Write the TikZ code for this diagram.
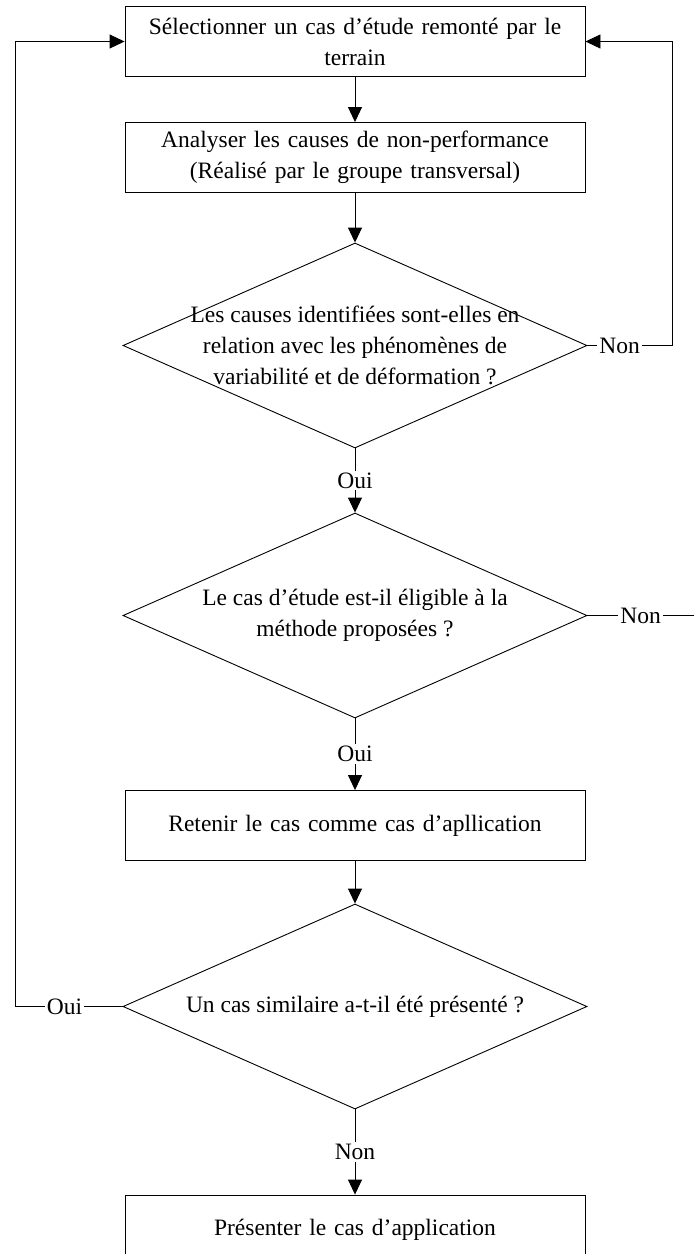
\documentclass[tikz,border=0pt]{standalone}
\usepackage{fontspec}
\setmainfont{Liberation Serif}
\usetikzlibrary{shapes.geometric,arrows.meta}

\begin{document}
\begin{tikzpicture}[x=1pt,y=-1pt,
    every node/.style={font=\fontsize{23.5}{31}\selectfont},
    stepbox/.style={draw, line width=0.9pt, minimum width=460pt, minimum height=70pt, text width=440pt, align=center, inner sep=0pt},
    test/.style={draw, diamond, line width=0.9pt, minimum width=464pt, minimum height=205pt, inner sep=0pt},
    qtext/.style={align=center, inner sep=0pt},
    lbl/.style={fill=white, inner sep=2pt},
    arr/.style={line width=0.9pt, -{Triangle[length=15pt,width=14pt]}},
    ln/.style={line width=0.9pt}]
        \useasboundingbox (0,0) rectangle (694,1254);
        \clip (0,0) rectangle (694,1254);
        % Steps
        \node[stepbox] (select) at (355,41.5) {S\'electionner un cas d'\'etude remont\'e par le\\terrain};
        \node[stepbox] (analyse) at (355,157.5) {Analyser les causes de non-performance\\(R\'ealis\'e par le groupe transversal)};
        % Tests
        \node[test] (causes) at (355,345.5) {};
        \node[qtext] (causestxt) at (causes) {Les causes identifi\'ees sont-elles en\\relation avec les ph\'enom\`enes de\\variabilit\'e et de d\'eformation ?};
        \node[test] (eligible) at (355,615.5) {};
        \node[qtext] (eligibletxt) at (eligible) {Le cas d'\'etude est-il \'eligible \`a la\\m\'ethode propos\'ees ?};
        \node[stepbox] (retain) at (355,825.5) {Retenir le cas comme cas d'apllication};
        \node[test] (similar) at (355,1006.5) {};
        \node[qtext] (similartxt) at (similar) {Un cas similaire a-t-il \'et\'e pr\'esent\'e ?};
        \node[stepbox] (present) at (355,1230) {Pr\'esenter le cas d'application};
        % Loop ends
        \coordinate (nonright) at (672,345.5);
        \coordinate (nonout) at (694,615.5);
        \coordinate (ouileft) at (15,1006.5);
        % Connectors
        \draw[arr] (select) -- (analyse);
        \draw[arr] (analyse) -- (causes);
        \draw[arr] (causes) -- node[lbl]{Oui} (eligible);
        \draw[arr] (eligible) -- node[lbl]{Oui} (retain);
        \draw[arr] (retain) -- (similar);
        \draw[arr] (similar) -- node[lbl]{Non} (present);
        \draw[arr] (causes.east) -- node[lbl,pos=0.38]{Non} (nonright) |- (select.east);
        \draw[ln] (eligible.east) -- node[lbl]{Non} (nonout);
        \draw[arr] (similar.west) -- node[lbl,pos=0.54]{Oui} (ouileft) |- (select.west);
    \end{tikzpicture}
\end{document}
